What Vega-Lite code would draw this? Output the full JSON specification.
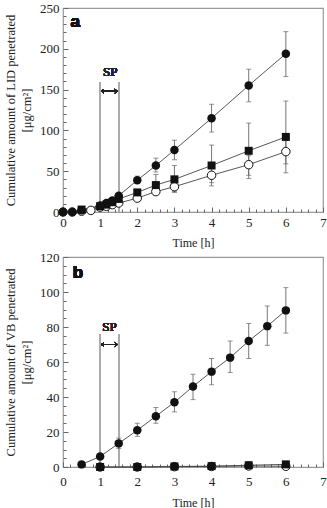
{
  "$schema": "https://vega.github.io/schema/vega-lite/v6.json",
  "padding": {"left": 3, "top": 1, "right": 0, "bottom": 0},
  "spacing": 1,
  "config": {
    "view": {"stroke": "#9a9a9a", "strokeWidth": 1.2},
    "font": "Liberation Serif",
    "axis": {
      "labelFont": "Liberation Serif", "labelFontSize": 13, "labelColor": "#222",
      "titleFont": "Liberation Serif", "titleFontSize": 12.5, "titleFontWeight": "normal", "titleColor": "#222",
      "titleLineHeight": 16,
      "domain": false, "grid": false, "tickColor": "#666", "labelOverlap": false, "labelFlush": false
    }
  },
  "datasets": {
    "a": [
      {"s": "A", "t": 0, "v": 0, "lo": 0, "hi": 0},
      {"s": "A", "t": 0.25, "v": 0, "lo": 0, "hi": 0},
      {"s": "A", "t": 0.5, "v": 2, "lo": 2, "hi": 2},
      {"s": "A", "t": 1, "v": 8, "lo": 7, "hi": 9},
      {"s": "A", "t": 1.17, "v": 11, "lo": 10, "hi": 12},
      {"s": "A", "t": 1.33, "v": 14, "lo": 13, "hi": 15},
      {"s": "A", "t": 1.5, "v": 20, "lo": 18, "hi": 22},
      {"s": "A", "t": 2, "v": 39, "lo": 35, "hi": 44},
      {"s": "A", "t": 2.5, "v": 57, "lo": 49, "hi": 66},
      {"s": "A", "t": 3, "v": 76, "lo": 64, "hi": 88},
      {"s": "A", "t": 4, "v": 115, "lo": 98, "hi": 132},
      {"s": "A", "t": 5, "v": 155, "lo": 135, "hi": 175},
      {"s": "A", "t": 6, "v": 194, "lo": 166, "hi": 221},
      {"s": "B", "t": 0.5, "v": 3, "lo": 3, "hi": 3},
      {"s": "B", "t": 1, "v": 7, "lo": 7, "hi": 7},
      {"s": "B", "t": 1.17, "v": 9, "lo": 9, "hi": 9},
      {"s": "B", "t": 1.33, "v": 12, "lo": 12, "hi": 12},
      {"s": "B", "t": 1.5, "v": 16, "lo": 14, "hi": 18},
      {"s": "B", "t": 2, "v": 24, "lo": 21, "hi": 27},
      {"s": "B", "t": 2.5, "v": 33, "lo": 21, "hi": 46},
      {"s": "B", "t": 3, "v": 40, "lo": 24, "hi": 57},
      {"s": "B", "t": 4, "v": 57, "lo": 32, "hi": 82},
      {"s": "B", "t": 5, "v": 75, "lo": 41, "hi": 109},
      {"s": "B", "t": 6, "v": 92, "lo": 48, "hi": 136},
      {"s": "C", "t": 0, "v": 0, "lo": 0, "hi": 0},
      {"s": "C", "t": 0.25, "v": 0, "lo": 0, "hi": 0},
      {"s": "C", "t": 0.5, "v": 1, "lo": 1, "hi": 1},
      {"s": "C", "t": 0.75, "v": 2, "lo": 2, "hi": 2},
      {"s": "C", "t": 1, "v": 6, "lo": 6, "hi": 6},
      {"s": "C", "t": 1.17, "v": 7, "lo": 7, "hi": 7},
      {"s": "C", "t": 1.33, "v": 9, "lo": 9, "hi": 9},
      {"s": "C", "t": 1.5, "v": 11, "lo": 8, "hi": 14},
      {"s": "C", "t": 2, "v": 17, "lo": 15, "hi": 19},
      {"s": "C", "t": 2.5, "v": 25, "lo": 22, "hi": 28},
      {"s": "C", "t": 3, "v": 31, "lo": 25, "hi": 37},
      {"s": "C", "t": 4, "v": 45, "lo": 36, "hi": 55},
      {"s": "C", "t": 5, "v": 58, "lo": 45, "hi": 69},
      {"s": "C", "t": 6, "v": 74, "lo": 59, "hi": 89}
    ],
    "b": [
      {"s": "A", "t": 0.5, "v": 1.5, "lo": 1.5, "hi": 1.5},
      {"s": "A", "t": 1, "v": 6, "lo": 6, "hi": 6},
      {"s": "A", "t": 1.5, "v": 13.5, "lo": 10.5, "hi": 16.5},
      {"s": "A", "t": 2, "v": 21, "lo": 17.5, "hi": 25},
      {"s": "A", "t": 2.5, "v": 29, "lo": 25, "hi": 34},
      {"s": "A", "t": 3, "v": 37, "lo": 31.5, "hi": 43},
      {"s": "A", "t": 3.5, "v": 46, "lo": 38.5, "hi": 53},
      {"s": "A", "t": 4, "v": 54.5, "lo": 47, "hi": 62},
      {"s": "A", "t": 4.5, "v": 62.5, "lo": 54, "hi": 72},
      {"s": "A", "t": 5, "v": 72, "lo": 62, "hi": 82},
      {"s": "A", "t": 5.5, "v": 80.5, "lo": 69.5, "hi": 92},
      {"s": "A", "t": 6, "v": 89.5, "lo": 76.5, "hi": 102.5},
      {"s": "B", "t": 1, "v": 0, "lo": 0, "hi": 0},
      {"s": "B", "t": 2, "v": 0, "lo": 0, "hi": 0},
      {"s": "B", "t": 3, "v": 0.3, "lo": 0.3, "hi": 0.3},
      {"s": "B", "t": 4, "v": 0.5, "lo": 0.5, "hi": 0.5},
      {"s": "B", "t": 5, "v": 1, "lo": 1, "hi": 1},
      {"s": "B", "t": 6, "v": 1.5, "lo": 1.5, "hi": 1.5},
      {"s": "C", "t": 1, "v": 0, "lo": 0, "hi": 0},
      {"s": "C", "t": 2, "v": 0, "lo": 0, "hi": 0},
      {"s": "C", "t": 3, "v": 0.2, "lo": 0.2, "hi": 0.2},
      {"s": "C", "t": 4, "v": 0.3, "lo": 0.3, "hi": 0.3},
      {"s": "C", "t": 5, "v": 0.6, "lo": 0.6, "hi": 0.6},
      {"s": "C", "t": 6, "v": 0.4, "lo": 0.4, "hi": 0.4}
    ]
  },
  "vconcat": [
    {
      "width": 260,
      "height": 204,
      "data": {"name": "a"},
      "encoding": {
        "x": {
          "field": "t", "type": "quantitative",
          "scale": {"domain": [0, 7], "nice": false, "zero": false},
          "axis": {
            "title": "Time [h]", "titlePadding": 6, "labelPadding": 9, "titleFontSize": 12,
            "values": [0,0.2,0.4,0.6,0.8,1,1.2,1.4,1.6,1.8,2,2.2,2.4,2.6,2.8,3,3.2,3.4,3.6,3.8,4,4.2,4.4,4.6,4.8,5,5.2,5.4,5.6,5.8,6,6.2,6.4,6.6,6.8,7],
            "labelExpr": "abs(datum.value - round(datum.value)) < 0.01 ? '' + round(datum.value) : ''",
            "tickSize": {"condition": {"test": "abs(datum.value - round(datum.value)) < 0.01", "value": -5}, "value": -3}
          }
        },
        "y": {
          "field": "v", "type": "quantitative",
          "scale": {"domain": [0, 250], "nice": false},
          "axis": {
            "title": ["Cumulative amount of LID penetrated", "[μg/cm²]"], "titleLineHeight": 16, "titlePadding": 6, "labelPadding": 9,
            "values": [0,10,20,30,40,50,60,70,80,90,100,110,120,130,140,150,160,170,180,190,200,210,220,230,240,250],
            "labelExpr": "datum.value % 50 === 0 ? '' + datum.value : ''",
            "tickSize": {"condition": {"test": "datum.value % 50 === 0", "value": -5}, "value": -3}
          }
        }
      },
      "layer": [
        {
          "mark": {"type": "rule", "color": "#aaaaaa", "strokeWidth": 1},
          "encoding": {"x": {"datum": 1}, "y": {"datum": 0}, "y2": {"datum": 159}}
        },
        {
          "mark": {"type": "rule", "color": "#aaaaaa", "strokeWidth": 1},
          "encoding": {"x": {"datum": 1.5}, "y": {"datum": 0}, "y2": {"datum": 159}}
        },
        {
          "mark": {"type": "rule", "color": "#222", "strokeWidth": 1},
          "encoding": {"x": {"datum": 1.04}, "x2": {"datum": 1.46}, "y": {"datum": 148}}
        },
        {
          "mark": {"type": "point", "shape": "M0.6,-0.7L-0.4,0L0.6,0.7", "size": 30, "filled": false, "color": "#222", "strokeWidth": 1},
          "encoding": {"x": {"datum": 1.06}, "y": {"datum": 148}}
        },
        {
          "mark": {"type": "point", "shape": "M-0.6,-0.7L0.4,0L-0.6,0.7", "size": 30, "filled": false, "color": "#222", "strokeWidth": 1},
          "encoding": {"x": {"datum": 1.44}, "y": {"datum": 148}}
        },
        {
          "mark": {"type": "text", "text": "SP", "font": "Liberation Serif", "fontWeight": "normal", "fontSize": 13, "color": "#222"},
          "encoding": {"x": {"datum": 1.27}, "y": {"datum": 172}}
        },
        {
          "mark": {"type": "text", "text": "a", "font": "Liberation Sans", "fontWeight": "bold", "fontSize": 17, "color": "#111"},
          "encoding": {"x": {"datum": 0.33}, "y": {"datum": 233}}
        },
        {
          "mark": {"type": "line", "color": "#444", "strokeWidth": 0.9},
          "encoding": {"detail": {"field": "s"}}
        },
        {
          "transform": [{"filter": "datum.hi > datum.lo"}],
          "mark": {"type": "rule", "color": "#666", "strokeWidth": 0.9},
          "encoding": {"y": {"field": "lo", "type": "quantitative"}, "y2": {"field": "hi"}}
        },
        {
          "transform": [{"filter": "datum.hi > datum.lo"}],
          "mark": {"type": "tick", "orient": "horizontal", "color": "#666", "size": 5, "thickness": 1},
          "encoding": {"y": {"field": "lo", "type": "quantitative"}}
        },
        {
          "transform": [{"filter": "datum.hi > datum.lo"}],
          "mark": {"type": "tick", "orient": "horizontal", "color": "#666", "size": 5, "thickness": 1},
          "encoding": {"y": {"field": "hi", "type": "quantitative"}}
        },
        {
          "transform": [{"filter": "datum.s === 'C'"}],
          "mark": {"type": "point", "shape": "circle", "size": 72, "filled": true, "fill": "white", "stroke": "#111", "strokeWidth": 1, "opacity": 1}
        },
        {
          "transform": [{"filter": "datum.s === 'B'"}],
          "mark": {"type": "point", "shape": "square", "size": 64, "filled": true, "color": "#111", "opacity": 1}
        },
        {
          "transform": [{"filter": "datum.s === 'A'"}],
          "mark": {"type": "point", "shape": "circle", "size": 72, "filled": true, "color": "#111", "opacity": 1}
        }
      ]
    },
    {
      "width": 260,
      "height": 210,
      "data": {"name": "b"},
      "encoding": {
        "x": {
          "field": "t", "type": "quantitative",
          "scale": {"domain": [0, 7], "nice": false, "zero": false},
          "axis": {
            "title": "Time [h]", "titlePadding": 7, "labelPadding": 13, "titleFontSize": 12,
            "values": [0,0.2,0.4,0.6,0.8,1,1.2,1.4,1.6,1.8,2,2.2,2.4,2.6,2.8,3,3.2,3.4,3.6,3.8,4,4.2,4.4,4.6,4.8,5,5.2,5.4,5.6,5.8,6,6.2,6.4,6.6,6.8,7],
            "labelExpr": "abs(datum.value - round(datum.value)) < 0.01 ? '' + round(datum.value) : ''",
            "tickSize": {"condition": {"test": "abs(datum.value - round(datum.value)) < 0.01", "value": -5}, "value": -3}
          }
        },
        "y": {
          "field": "v", "type": "quantitative",
          "scale": {"domain": [0, 120], "nice": false},
          "axis": {
            "title": ["Cumulative amount of VB penetrated", "[μg/cm²]"], "titleLineHeight": 16, "titlePadding": 6, "labelPadding": 9,
            "values": [0,5,10,15,20,25,30,35,40,45,50,55,60,65,70,75,80,85,90,95,100,105,110,115,120],
            "labelExpr": "datum.value % 20 === 0 ? '' + datum.value : ''",
            "tickSize": {"condition": {"test": "datum.value % 20 === 0", "value": -5}, "value": -3}
          }
        }
      },
      "layer": [
        {
          "mark": {"type": "rule", "color": "#aaaaaa", "strokeWidth": 1},
          "encoding": {"x": {"datum": 1}, "y": {"datum": 0}, "y2": {"datum": 76}}
        },
        {
          "mark": {"type": "rule", "color": "#aaaaaa", "strokeWidth": 1},
          "encoding": {"x": {"datum": 1.5}, "y": {"datum": 0}, "y2": {"datum": 76}}
        },
        {
          "mark": {"type": "rule", "color": "#222", "strokeWidth": 1},
          "encoding": {"x": {"datum": 1.04}, "x2": {"datum": 1.46}, "y": {"datum": 70}}
        },
        {
          "mark": {"type": "point", "shape": "M0.6,-0.7L-0.4,0L0.6,0.7", "size": 30, "filled": false, "color": "#222", "strokeWidth": 1},
          "encoding": {"x": {"datum": 1.06}, "y": {"datum": 70}}
        },
        {
          "mark": {"type": "point", "shape": "M-0.6,-0.7L0.4,0L-0.6,0.7", "size": 30, "filled": false, "color": "#222", "strokeWidth": 1},
          "encoding": {"x": {"datum": 1.44}, "y": {"datum": 70}}
        },
        {
          "mark": {"type": "text", "text": "SP", "font": "Liberation Serif", "fontWeight": "normal", "fontSize": 13, "color": "#222"},
          "encoding": {"x": {"datum": 1.25}, "y": {"datum": 80}}
        },
        {
          "mark": {"type": "text", "text": "b", "font": "Liberation Sans", "fontWeight": "bold", "fontSize": 17, "color": "#111"},
          "encoding": {"x": {"datum": 0.4}, "y": {"datum": 111}}
        },
        {
          "mark": {"type": "line", "color": "#444", "strokeWidth": 0.9},
          "encoding": {"detail": {"field": "s"}}
        },
        {
          "transform": [{"filter": "datum.hi > datum.lo"}],
          "mark": {"type": "rule", "color": "#666", "strokeWidth": 0.9},
          "encoding": {"y": {"field": "lo", "type": "quantitative"}, "y2": {"field": "hi"}}
        },
        {
          "transform": [{"filter": "datum.hi > datum.lo"}],
          "mark": {"type": "tick", "orient": "horizontal", "color": "#666", "size": 5, "thickness": 1},
          "encoding": {"y": {"field": "lo", "type": "quantitative"}}
        },
        {
          "transform": [{"filter": "datum.hi > datum.lo"}],
          "mark": {"type": "tick", "orient": "horizontal", "color": "#666", "size": 5, "thickness": 1},
          "encoding": {"y": {"field": "hi", "type": "quantitative"}}
        },
        {
          "transform": [{"filter": "datum.s === 'C'"}],
          "mark": {"type": "point", "shape": "circle", "size": 72, "filled": true, "fill": "white", "stroke": "#111", "strokeWidth": 1, "opacity": 1}
        },
        {
          "transform": [{"filter": "datum.s === 'B'"}],
          "mark": {"type": "point", "shape": "square", "size": 64, "filled": true, "color": "#111", "opacity": 1}
        },
        {
          "transform": [{"filter": "datum.s === 'A'"}],
          "mark": {"type": "point", "shape": "circle", "size": 72, "filled": true, "color": "#111", "opacity": 1}
        }
      ]
    }
  ]
}
